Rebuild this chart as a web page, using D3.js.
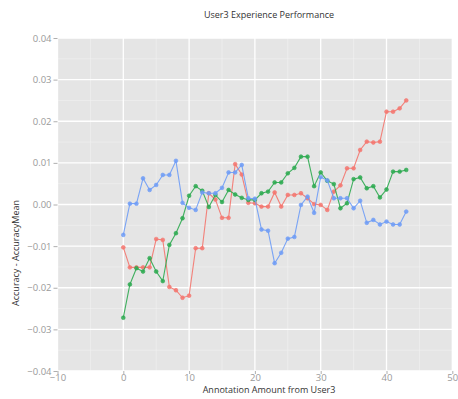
<!DOCTYPE html>
<html>
<head>
<meta charset="utf-8">
<script src="https://cdn.jsdelivr.net/npm/d3@7"></script>
<style>
  html, body { margin: 0; padding: 0; background: #ffffff; }
  svg { display: block; }
  text { font-family: "Open Sans", "DejaVu Sans", sans-serif; }
</style>
</head>
<body>
<svg id="chart" width="458" height="399"></svg>
<script>
// Accuracy minus mean accuracy as annotations from User3 accumulate (x = 0..43)
const seriesNames = ["red", "green", "blue"];
const seriesColors = ["#F4766E", "#2DAA50", "#6E9CF6"];

const redValues = [
  -0.0103, -0.0151, -0.0151, -0.0151, -0.0151, -0.0083, -0.0085, -0.0198, -0.0206, -0.0224,
  -0.0219, -0.0105, -0.0105, 0.0027, 0.0012, -0.0032, -0.0032, 0.0097, 0.0072, 0.0004,
  0.0003, -0.0005, -0.0005, 0.0029, -0.0005, 0.0023, 0.0023, 0.0027, 0.0015, 0.0001,
  -0.0001, -0.0013, 0.0031, 0.0046, 0.0087, 0.0087, 0.0131, 0.0151, 0.0149, 0.0151,
  0.0223, 0.0223, 0.0231, 0.0250
];
const greenValues = [
  -0.0272, -0.0192, -0.0153, -0.0161, -0.0129, -0.0161, -0.0184, -0.0097, -0.0069, -0.0033,
  0.0021, 0.0044, 0.0033, -0.0006, 0.0023, 0.0006, 0.0035, 0.0024, 0.0016, 0.0011,
  0.0011, 0.0027, 0.0031, 0.0053, 0.0053, 0.0075, 0.0088, 0.0115, 0.0115, 0.0044,
  0.0077, 0.0057, 0.0049, -0.0009, 0.0003, 0.0061, 0.0065, 0.0039, 0.0044, 0.0017,
  0.0036, 0.0079, 0.0079, 0.0083
];
const blueValues = [
  -0.0073, 0.0002, 0.0002, 0.0063, 0.0035, 0.0047, 0.0071, 0.0071, 0.0105, 0.0004,
  -0.0008, -0.0013, 0.0029, 0.0027, 0.0027, 0.0040, 0.0077, 0.0077, 0.0095, 0.0015,
  0.0014, -0.0060, -0.0063, -0.0141, -0.0116, -0.0082, -0.0078, -0.0001, 0.0019, -0.0020,
  0.0066, 0.0058, 0.0015, 0.0015, 0.0015, -0.0009, 0.0009, -0.0044, -0.0037, -0.0048,
  -0.0041, -0.0048, -0.0048, -0.0017
];

const xTicks = [-10, 0, 10, 20, 30, 40, 50];
const yTicks = [-0.04, -0.03, -0.02, -0.01, 0.00, 0.01, 0.02, 0.03, 0.04];
const xMinor = [-5, 5, 15, 25, 35, 45];
const yMinor = [-0.035, -0.025, -0.015, -0.005, 0.005, 0.015, 0.025, 0.035];

const titleText = "User3 Experience Performance";
const xTitle = "Annotation Amount from User3";
const yTitle = "Accuracy - AccuracyMean";

const seriesData = [redValues, greenValues, blueValues].map((vals, k) => ({
  name: seriesNames[k],
  color: seriesColors[k],
  points: vals.map((v, i) => ({ x: i, y: v }))
}));

const svg = d3.select("#chart");
const panel = { left: 57.5, right: 452.3, top: 38, bottom: 371 };

const x = d3.scaleLinear().domain([-10, 50]).range([panel.left, panel.right]);
const y = d3.scaleLinear().domain([-0.04, 0.04]).range([panel.bottom, panel.top]);

// panel background
svg.append("rect")
  .attr("x", panel.left).attr("y", panel.top)
  .attr("width", panel.right - panel.left)
  .attr("height", panel.bottom - panel.top)
  .attr("fill", "#e5e5e5");

// minor grid
const grid = svg.append("g");
grid.selectAll(".vminor").data(xMinor).join("line")
  .attr("x1", d => x(d)).attr("x2", d => x(d))
  .attr("y1", panel.top).attr("y2", panel.bottom)
  .attr("stroke", "#f2f2f2").attr("stroke-width", 0.6);
grid.selectAll(".hminor").data(yMinor).join("line")
  .attr("y1", d => y(d)).attr("y2", d => y(d))
  .attr("x1", panel.left).attr("x2", panel.right)
  .attr("stroke", "#f2f2f2").attr("stroke-width", 0.6);
// major grid
grid.selectAll(".vmajor").data(xTicks).join("line")
  .attr("x1", d => x(d)).attr("x2", d => x(d))
  .attr("y1", panel.top).attr("y2", panel.bottom)
  .attr("stroke", "#ffffff").attr("stroke-width", 1.3);
grid.selectAll(".hmajor").data(yTicks).join("line")
  .attr("y1", d => y(d)).attr("y2", d => y(d))
  .attr("x1", panel.left).attr("x2", panel.right)
  .attr("stroke", "#ffffff").attr("stroke-width", 1.3);

const minusFmt = v => (v < 0 ? "\u2212" : "") + Math.abs(v).toFixed(2);
const xFmt = v => (v < 0 ? "\u2212" : "") + Math.abs(v);

// axes
const xAxis = svg.append("g")
  .attr("transform", `translate(0,${panel.bottom})`)
  .call(d3.axisBottom(x).tickValues(xTicks).tickFormat(xFmt).tickSize(3).tickPadding(0));
const yAxis = svg.append("g")
  .attr("transform", `translate(${panel.left},0)`)
  .call(d3.axisLeft(y).tickValues(yTicks).tickFormat(minusFmt).tickSize(4).tickPadding(2));
[xAxis, yAxis].forEach(ax => {
  ax.select(".domain").remove();
  ax.selectAll(".tick line").attr("stroke", "#9a9a9a").attr("stroke-width", 0.8);
  ax.selectAll(".tick text")
    .attr("fill", "#9a9a9a")
    .style("font-size", "9.5px")
    .style("font-family", "'Open Sans', 'DejaVu Sans', sans-serif");
});

// series lines and points
const line = d3.line().x(d => x(d.x)).y(d => y(d.y));
const series = svg.append("g").selectAll("g").data(seriesData).join("g");
series.append("path")
  .attr("d", d => line(d.points))
  .attr("fill", "none")
  .attr("stroke", d => d.color)
  .attr("stroke-width", 1.1)
  .attr("stroke-opacity", 0.9);
series.each(function (s) {
  d3.select(this).selectAll("circle").data(s.points).join("circle")
    .attr("cx", d => x(d.x))
    .attr("cy", d => y(d.y))
    .attr("r", 1.9)
    .attr("fill", s.color)
    .attr("fill-opacity", 0.85)
    .attr("stroke", s.color)
    .attr("stroke-width", 0.6);
});

// titles
svg.append("text")
  .attr("x", 269).attr("y", 17.5)
  .attr("text-anchor", "middle")
  .attr("fill", "#333333")
  .style("font-size", "9px")
  .text(titleText);
svg.append("text")
  .attr("x", 269).attr("y", 393)
  .attr("text-anchor", "middle")
  .attr("fill", "#333333")
  .style("font-size", "9px")
  .text(xTitle);
svg.append("text")
  .attr("transform", "translate(18.5,253) rotate(-90)")
  .attr("text-anchor", "middle")
  .attr("fill", "#333333")
  .style("font-size", "9px")
  .text(yTitle);
</script>
</body>
</html>
